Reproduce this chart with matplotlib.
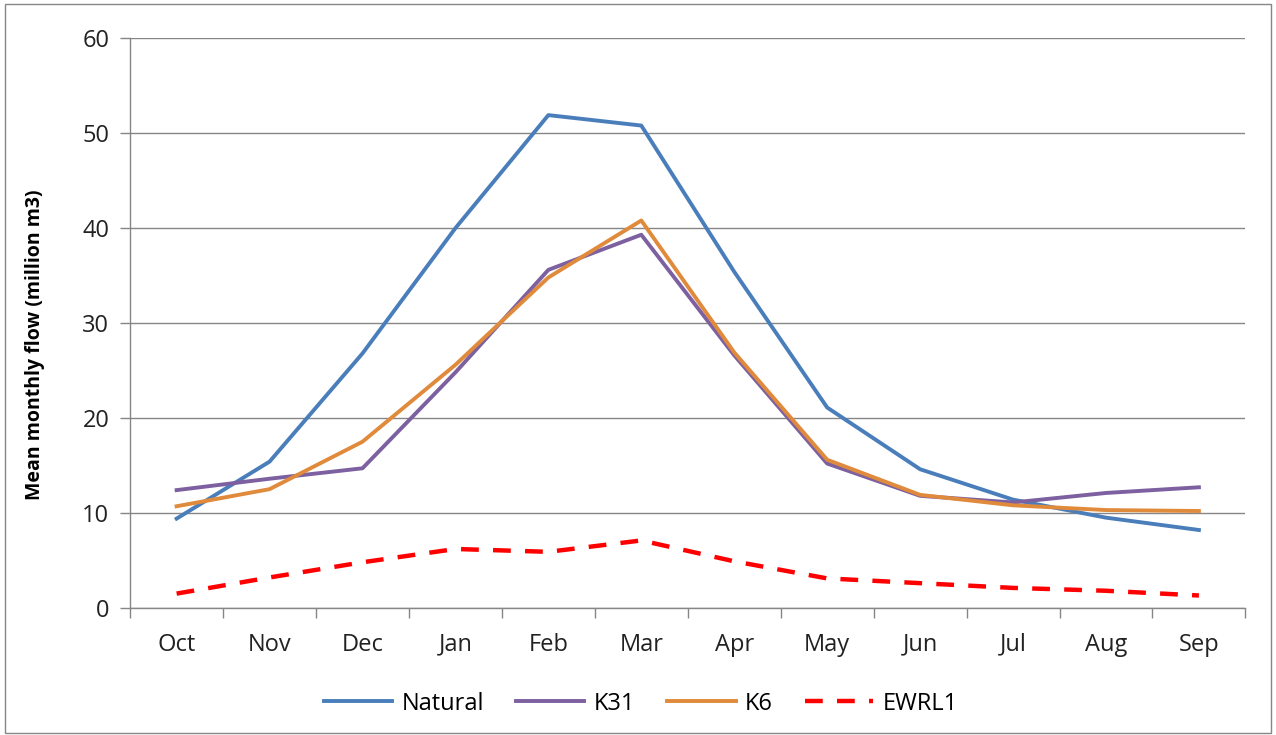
import numpy as np
import matplotlib.pyplot as plt
from matplotlib.patches import Rectangle

months = ['Oct', 'Nov', 'Dec', 'Jan', 'Feb', 'Mar', 'Apr', 'May', 'Jun', 'Jul', 'Aug', 'Sep']
natural = [9.4, 15.4, 26.8, 40.0, 51.9, 50.8, 35.4, 21.1, 14.6, 11.4, 9.5, 8.2]
k31 = [12.4, 13.6, 14.7, 24.8, 35.6, 39.3, 26.6, 15.2, 11.8, 11.1, 12.1, 12.7]
k6 = [10.7, 12.5, 17.5, 25.6, 34.8, 40.8, 26.9, 15.6, 11.9, 10.8, 10.3, 10.2]
ewrl1 = [1.5, 3.2, 4.8, 6.2, 5.9, 7.1, 4.9, 3.1, 2.6, 2.1, 1.8, 1.3]

plt.rcParams['font.family'] = ['Open Sans', 'DejaVu Sans']

fig = plt.figure(figsize=(12.76, 7.35), dpi=100)
ax = fig.add_axes([0.102, 0.173, 0.874, 0.775])

x = np.arange(len(months))
ax.plot(x, natural, color='#4A7EBB', lw=2.8, label='Natural', zorder=3)
ax.plot(x, k31, color='#7D60A0', lw=2.8, label='K31', zorder=3)
ax.plot(x, k6, color='#E08A3C', lw=2.8, label='K6', zorder=4)
ax.plot(x, ewrl1, color='#FF0000', lw=3.2, ls=(0, (4, 3.2)), label='EWRL1', zorder=3)

ax.set_xlim(-0.5, 11.5)
ax.set_ylim(0, 60)
ax.set_yticks(np.arange(0, 61, 10))
ax.set_xticks(x)
ax.set_xticklabels(months)
ax.set_xticks(np.arange(-0.5, 12, 1), minor=True)
ax.tick_params(axis='x', which='major', length=0, pad=18, labelsize=17, colors='#222222')
ax.tick_params(axis='x', which='minor', length=7, color='#868686', width=1)
ax.tick_params(axis='y', length=7, color='#868686', width=1, labelsize=17, colors='#222222', pad=8)

ax.grid(axis='y', color='#868686', lw=1, zorder=0)
for s in ['top', 'right']:
    ax.spines[s].set_visible(False)
for s in ['left', 'bottom']:
    ax.spines[s].set_color('#868686')
    ax.spines[s].set_linewidth(1)

ax.set_ylabel('Mean monthly flow (million m3)', fontsize=14, fontweight='bold')
ax.yaxis.set_label_coords(-0.076, 0.461)

ax.legend(loc='upper center', bbox_to_anchor=(0.458, -0.11), ncol=4, frameon=False,
          fontsize=17, handlelength=2.9, columnspacing=1.35, handletextpad=0.4)

fig.patches.append(Rectangle((0.004, 0.003), 0.992, 0.992, transform=fig.transFigure,
                             fill=False, edgecolor='#868686', lw=1))

fig.savefig('out.png', dpi=100)
